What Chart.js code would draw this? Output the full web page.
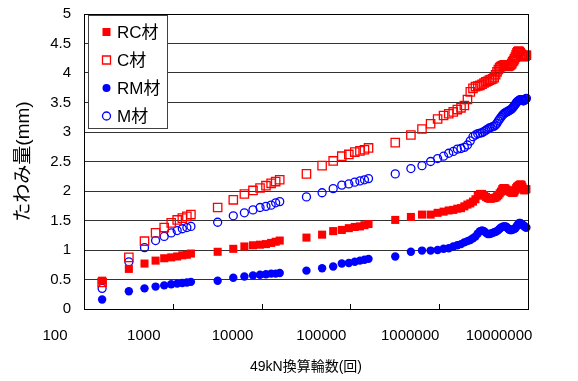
<!DOCTYPE html>
<html>
<head>
<meta charset="utf-8">
<script src="https://cdn.jsdelivr.net/npm/chart.js@4.4.0/dist/chart.umd.min.js"></script>
<style>
  html, body { margin: 0; padding: 0; background: #fff; }
</style>
</head>
<body>
<canvas id="deflectionChart" width="578" height="381"></canvas>
<script>
// 49kN換算輪数 (load cycles)
const cycles = [
    160, 320, 480, 640, 800, 960, 1120, 1280, 1440, 1600,
    3200, 4800, 6400, 8000, 9600, 11200, 12800, 14400, 16000,
    32000, 48000, 64000, 80000, 96000, 112000, 128000, 144000, 160000,
    320000, 480000, 640000, 800000, 960000, 1120000, 1280000, 1440000, 1600000, 1760000,
    1920000, 2080000, 2240000, 2400000, 2560000, 2720000, 2880000, 3040000, 3200000, 3360000,
    3520000, 3680000, 3840000, 4000000, 4160000, 4320000, 4480000, 4640000, 4800000, 4960000,
    5120000, 5280000, 5440000, 5600000, 5760000, 5920000, 6080000, 6240000, 6400000, 6560000,
    6720000, 6880000, 7040000, 7200000, 7360000, 7520000, 7680000, 7840000, 8000000, 8160000,
    8320000, 8480000, 8640000, 8800000, 8960000, 9120000, 9280000, 9440000, 9600000
];

// たわみ量 (mm)
const rcValues = [
    0.48, 0.68, 0.77, 0.82, 0.86, 0.875, 0.89, 0.91, 0.92, 0.94,
    0.97, 1.02, 1.06, 1.08, 1.09, 1.10, 1.12, 1.14, 1.16,
    1.21, 1.26, 1.32, 1.34, 1.37, 1.39, 1.40, 1.42, 1.44,
    1.51, 1.56, 1.60, 1.60, 1.63, 1.65, 1.67, 1.68, 1.70, 1.71,
    1.74, 1.77, 1.79, 1.82, 1.86, 1.92, 1.95, 1.95, 1.93, 1.90,
    1.88, 1.87, 1.87, 1.88, 1.88, 1.89, 1.91, 1.93, 1.96, 1.99,
    2.03, 2.05, 2.05, 2.04, 2.02, 2.01, 2.00, 1.99, 1.98, 1.97,
    1.97, 1.97, 1.99, 2.02, 2.05, 2.07, 2.08, 2.09, 2.10, 2.11,
    2.11, 2.10, 2.07, 2.04, 2.02, 2.01, 2.02, 2.03, 2.03
];
const cValues = [
    0.45, 0.875, 1.15, 1.29, 1.38, 1.46, 1.51, 1.54, 1.57, 1.60,
    1.72, 1.85, 1.95, 2.01, 2.05, 2.09, 2.13, 2.16, 2.19,
    2.29, 2.43, 2.51, 2.59, 2.62, 2.66, 2.68, 2.70, 2.73,
    2.82, 2.95, 3.05, 3.14, 3.22, 3.28, 3.31, 3.34, 3.38, 3.41,
    3.45, 3.55, 3.68, 3.74, 3.77, 3.78, 3.79, 3.81, 3.83, 3.85,
    3.86, 3.88, 3.89, 3.90, 3.92, 3.97, 4.02, 4.06, 4.09, 4.11,
    4.12, 4.13, 4.14, 4.13, 4.12, 4.11, 4.12, 4.13, 4.14, 4.16,
    4.19, 4.21, 4.24, 4.27, 4.31, 4.34, 4.36, 4.37, 4.36, 4.34,
    4.32, 4.31, 4.29, 4.28, 4.28, 4.28, 4.29, 4.30, 4.30
];
const rmValues = [
    0.16, 0.30, 0.35, 0.38, 0.40, 0.42, 0.43, 0.44, 0.45, 0.46,
    0.48, 0.53, 0.55, 0.57, 0.58, 0.59, 0.60, 0.60, 0.61,
    0.65, 0.69, 0.72, 0.77, 0.78, 0.80, 0.82, 0.835, 0.85,
    0.89, 0.97, 0.99, 0.99, 1.00, 1.02, 1.03, 1.06, 1.08, 1.10,
    1.13, 1.15, 1.17, 1.20, 1.23, 1.28, 1.32, 1.33, 1.32, 1.29,
    1.27, 1.27, 1.28, 1.29, 1.30, 1.31, 1.32, 1.34, 1.36, 1.38,
    1.39, 1.40, 1.40, 1.40, 1.39, 1.37, 1.35, 1.34, 1.34, 1.34,
    1.35, 1.35, 1.36, 1.37, 1.39, 1.41, 1.43, 1.45, 1.46, 1.46,
    1.45, 1.44, 1.43, 1.42, 1.41, 1.40, 1.39, 1.38, 1.38
];
const mValues = [
    0.35, 0.80, 1.04, 1.16, 1.23, 1.29, 1.33, 1.36, 1.38, 1.40,
    1.47, 1.58, 1.63, 1.68, 1.72, 1.74, 1.76, 1.80, 1.82,
    1.90, 1.97, 2.04, 2.10, 2.12, 2.15, 2.17, 2.19, 2.21,
    2.29, 2.38, 2.43, 2.50, 2.55, 2.59, 2.64, 2.67, 2.71, 2.72,
    2.74, 2.78, 2.85, 2.92, 2.95, 2.97, 2.98, 2.99, 3.01, 3.03,
    3.05, 3.07, 3.08, 3.09, 3.10, 3.12, 3.15, 3.19, 3.22, 3.25,
    3.28, 3.30, 3.32, 3.33, 3.34, 3.35, 3.36, 3.37, 3.38, 3.39,
    3.41, 3.43, 3.45, 3.47, 3.49, 3.51, 3.52, 3.53, 3.54, 3.55,
    3.55, 3.54, 3.54, 3.53, 3.53, 3.54, 3.55, 3.56, 3.57
];

const seriesLabels = ['RC材', 'C材', 'RM材', 'M材'];
const xTickValues = [100, 1000, 10000, 100000, 1000000, 10000000];

const FONT = '"Liberation Sans", "Noto Sans CJK JP", sans-serif';
const RED = '#ff0000';
const BLUE = '#0000ff';

const toPoints = values => cycles.map((x, i) => ({ x: x, y: values[i] }));

// plot frame, inward x ticks and the boxed legend
const framePlugin = {
    id: 'frame',
    afterDraw(chart) {
        const { ctx, chartArea: a } = chart;
        const xs = chart.scales.x;
        ctx.save();
        ctx.strokeStyle = '#000';
        ctx.lineWidth = 1;
        ctx.strokeRect(a.left + 0.5, a.top + 0.5, a.right - a.left, a.bottom - a.top);

        ctx.beginPath();
        xTickValues.slice(1, -1).forEach(v => {
            const px = Math.round(xs.getPixelForValue(v)) + 0.5;
            ctx.moveTo(px, a.bottom);
            ctx.lineTo(px, a.bottom - 5);
        });
        ctx.stroke();

        // legend
        const bx = a.left + 4, by = a.top + 1, bw = 79, bh = 113;
        ctx.fillStyle = '#fff';
        ctx.fillRect(bx, by, bw, bh);
        ctx.strokeStyle = '#404040';
        ctx.strokeRect(bx + 0.5, by + 0.5, bw, bh);

        chart.data.datasets.forEach((ds, i) => {
            const cy = by + 17 + i * 28;
            const cx = bx + 18.5;
            ctx.lineWidth = 1.3;
            ctx.strokeStyle = ds.borderColor;
            ctx.fillStyle = ds.backgroundColor;
            ctx.beginPath();
            if (ds.pointStyle === 'rect') {
                ctx.rect(cx - 4, cy - 4, 8, 8);
            } else {
                ctx.arc(cx, cy, 4, 0, Math.PI * 2);
            }
            ctx.fill();
            if (ds.pointBorderWidth > 0) ctx.stroke();

            ctx.fillStyle = '#000';
            ctx.font = '17px ' + FONT;
            ctx.textBaseline = 'middle';
            ctx.textAlign = 'left';
            ctx.fillText(ds.label, bx + 29, cy + 1);
        });
        ctx.restore();
    }
};

const ctx = document.getElementById('deflectionChart').getContext('2d');

new Chart(ctx, {
    type: 'scatter',
    data: {
        datasets: [
            { label: seriesLabels[0], data: toPoints(rcValues), pointStyle: 'rect', pointRadius: 5.7,
              pointBorderWidth: 0, backgroundColor: RED, borderColor: RED, clip: false },
            { label: seriesLabels[1], data: toPoints(cValues), pointStyle: 'rect', pointRadius: 5.9,
              pointBorderWidth: 1.3, backgroundColor: 'rgba(0,0,0,0)', borderColor: RED, clip: false },
            { label: seriesLabels[2], data: toPoints(rmValues), pointStyle: 'circle', pointRadius: 4.2,
              pointBorderWidth: 0, backgroundColor: BLUE, borderColor: BLUE, clip: false },
            { label: seriesLabels[3], data: toPoints(mValues), pointStyle: 'circle', pointRadius: 4,
              pointBorderWidth: 1.3, backgroundColor: 'rgba(0,0,0,0)', borderColor: BLUE, clip: false }
        ]
    },
    options: {
        responsive: false,
        animation: false,
        layout: { padding: { left: 0, right: 50, top: 14, bottom: 0 } },
        plugins: { legend: { display: false }, tooltip: { enabled: false } },
        scales: {
            x: {
                type: 'logarithmic',
                min: 100,
                max: 10000000,
                afterBuildTicks: scale => { scale.ticks = xTickValues.map(v => ({ value: v })); },
                afterFit: scale => {
                    scale.height = 72;
                    scale.paddingLeft = 0;
                    scale.paddingRight = 0;
                },
                grid: { display: false, drawTicks: false },
                border: { display: true, color: '#000', width: 1 },
                ticks: {
                    color: '#000', font: { family: FONT, size: 15 }, padding: 18, labelOffset: -29,
                    maxRotation: 0, autoSkip: false, callback: v => String(v)
                },
                title: {
                    display: true, text: '49kN換算輪数(回)', color: '#000',
                    font: { family: FONT, size: 14 }, padding: { top: 0, bottom: 5 }
                }
            },
            y: {
                min: 0,
                max: 5,
                afterFit: scale => {
                    scale.width = 84;
                    scale.paddingTop = 0;
                    scale.paddingBottom = 0;
                },
                grid: { color: '#333', lineWidth: 1, drawTicks: false },
                border: { display: true, color: '#000', width: 1 },
                ticks: {
                    stepSize: 0.5, color: '#000', font: { family: FONT, size: 15 }, padding: 13,
                    callback: v => String(v)
                },
                title: {
                    display: true, text: 'たわみ量(mm)', color: '#000',
                    font: { family: FONT, size: 19 }, padding: { top: 12, bottom: 0 }
                }
            }
        }
    },
    plugins: [framePlugin]
});
</script>
</body>
</html>
